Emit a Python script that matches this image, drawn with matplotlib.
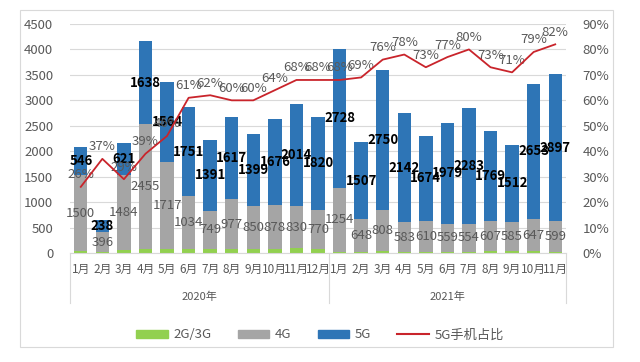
import numpy as np
import matplotlib.pyplot as plt
from matplotlib.patches import Rectangle
from matplotlib.lines import Line2D
from matplotlib.patches import Patch

plt.rcParams['font.family'] = ['Noto Sans CJK SC', 'DejaVu Sans']

# data
months = ['1月', '2月', '3月', '4月', '5月', '6月', '7月', '8月', '9月', '10月', '11月', '12月',
          '1月', '2月', '3月', '4月', '5月', '6月', '7月', '8月', '9月', '10月', '11月']
years = ['2020年', '2021年']
g23 = [30, 10, 56, 73, 80, 80, 80, 80, 80, 70, 90, 80,
       27, 20, 40, 20, 20, 20, 20, 30, 30, 30, 20]
g4 = [1500, 396, 1484, 2455, 1717, 1034, 749, 977, 850, 878, 830, 770,
      1254, 648, 808, 583, 610, 559, 554, 607, 585, 647, 599]
g5 = [546, 238, 621, 1638, 1564, 1751, 1391, 1617, 1399, 1676, 2014, 1820,
      2728, 1507, 2750, 2142, 1674, 1979, 2283, 1769, 1512, 2653, 2897]
share = [26, 37, 29, 39, 46, 61, 62, 60, 60, 64, 68, 68,
         68, 69, 76, 78, 73, 77, 80, 73, 71, 79, 82]

c_g23 = '#92D050'
c_g4 = '#A5A5A5'
c_g5 = '#2E75B6'
c_line = '#C9242B'
c_txt = '#595959'

fig = plt.figure(figsize=(6.4, 3.62), dpi=100)
ax = fig.add_axes([70 / 640, 1 - 253 / 362, 496 / 640, 229 / 362])

x = np.arange(len(months))
g23 = np.array(g23)
g4 = np.array(g4)
g5 = np.array(g5)
w = 0.62
ax.bar(x, g23, w, color=c_g23, zorder=2)
ax.bar(x, g4, w, bottom=g23, color=c_g4, zorder=2)
ax.bar(x, g5, w, bottom=g23 + g4, color=c_g5, zorder=2)

for i in range(len(x)):
    ax.text(x[i], g23[i] + g4[i] / 2, str(g4[i]), ha='center', va='center',
            fontsize=9.5, color=c_txt, zorder=5)
    ax.text(x[i], g23[i] + g4[i] + g5[i] / 2, str(g5[i]), ha='center', va='center',
            fontsize=9.5, fontweight='bold', color='black', zorder=6)

ax.set_xlim(-0.5, len(x) - 0.5)
ax.set_ylim(0, 4500)
ax.set_yticks(np.arange(0, 4501, 500))
ax.grid(axis='y', color='#D9D9D9', lw=0.8, zorder=0)
ax.set_axisbelow(True)
for s in ['top', 'right', 'left']:
    ax.spines[s].set_visible(False)
ax.spines['bottom'].set_color('#D9D9D9')
ax.tick_params(axis='y', length=0, pad=12, labelsize=9.5, labelcolor=c_txt)
ax.set_xticks(x)
ax.set_xticklabels(months)
ax.tick_params(axis='x', length=0, pad=7, labelsize=8.5, labelcolor=c_txt)

# two-level category axis
tr = ax.get_xaxis_transform()
for xv in [-0.5, 11.5, 22.5]:
    ax.plot([xv, xv], [0, -0.22], transform=tr, color='#D9D9D9', lw=0.8, clip_on=False)
ax.text(5.5, -0.19, years[0], transform=tr, ha='center', va='center', fontsize=8, color=c_txt)
ax.text(17, -0.19, years[1], transform=tr, ha='center', va='center', fontsize=8, color=c_txt)

ax2 = ax.twinx()
ax2.plot(x, share, color=c_line, lw=1.3, zorder=4)
ax2.set_ylim(0, 90)
ax2.set_yticks(np.arange(0, 91, 10))
ax2.set_yticklabels([f'{v}%' for v in range(0, 91, 10)])
ax2.tick_params(axis='y', length=0, pad=12, labelsize=9.5, labelcolor=c_txt)
for s in ax2.spines.values():
    s.set_visible(False)
for i in range(len(x)):
    ax2.annotate(f'{share[i]}%', (x[i], share[i]), xytext=(0, 4), textcoords='offset points',
                 ha='center', va='bottom', fontsize=9.5, color=c_txt)

handles = [Patch(color=c_g23), Patch(color=c_g4), Patch(color=c_g5),
           Line2D([], [], color=c_line, lw=1.5)]
fig.legend(handles, ['2G/3G', '4G', '5G', '5G手机占比'], loc='center',
           bbox_to_anchor=(0.5, 1 - 335 / 362), ncol=4, frameon=False, fontsize=9.5,
           labelcolor=c_txt, handlelength=2.4, handleheight=0.5, columnspacing=2.0,
           handletextpad=0.4)

fig.patches.append(Rectangle((20 / 640, 1 - 347 / 362), 593 / 640, 337 / 362,
                             transform=fig.transFigure, fill=False, ec='#D9D9D9', lw=0.8))

fig.savefig('out.png', dpi=100)
